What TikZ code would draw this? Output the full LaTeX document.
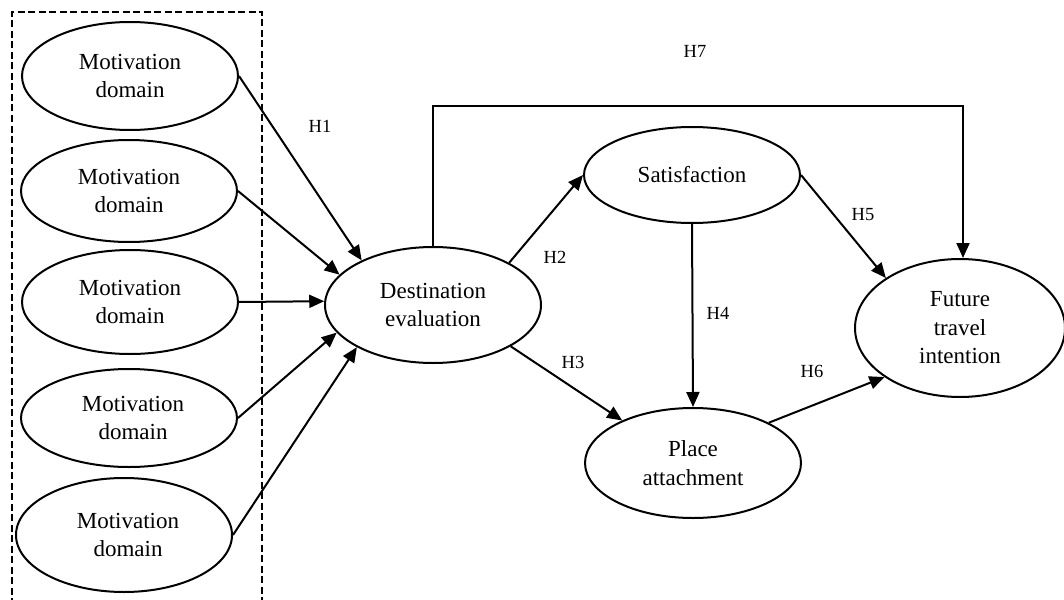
\documentclass[tikz,border=0pt]{standalone}
\usepackage{fontspec}
\setmainfont{Liberation Serif}
\usetikzlibrary{shapes.geometric, arrows.meta}

\begin{document}
\begin{tikzpicture}[x=1pt, y=-1pt,
    var/.style = {ellipse, draw, line width=2pt, inner sep=0pt, align=center,
                  font=\fontsize{23}{28.5}\selectfont},
    hyp/.style = {font=\fontsize{18.5}{20}\selectfont},
    arr/.style = {-{Triangle[length=15pt, width=13pt]}, line width=2pt}]
    \useasboundingbox (0,0) rectangle (1064,599);

    % motivation domains
    \node (M1) at (130,76)  [var, minimum width=216pt, minimum height=108pt] {Motivation\\domain};
    \node (M2) at (129,191) [var, minimum width=216pt, minimum height=102pt] {Motivation\\domain};
    \node (M3) at (130,302) [var, minimum width=216pt, minimum height=104pt] {Motivation\\domain};
    \node (M4) at (129,418) [var, minimum width=216pt, minimum height=98pt]  {\hspace*{8pt}Motivation\\\hspace*{8pt}domain};
    \node (M5) at (124,535) [var, minimum width=216pt, minimum height=114pt] {\hspace*{8pt}Motivation\\\hspace*{8pt}domain};
    \draw [line width=2.4pt, dash pattern=on 7pt off 3.5pt]
        (12,605) -- (12,12) -- (262,12) -- (262,605);

    \node (D) at (433,305) [var, minimum width=216pt, minimum height=116pt] {Destination\\evaluation};
    \node (S) at (692,175) [var, minimum width=216pt, minimum height=96pt]  {Satisfaction};
    \node (P) at (693,463) [var, minimum width=216pt, minimum height=110pt] {Place\\attachment};
    \node (F) at (960,328) [var, minimum width=210pt, minimum height=138pt] {Future\\travel\\intention};
    \coordinate (T) at (700,106);

    \path [arr] (M1.east) edge (D.148.5)
                (M2.east) edge (D.162)
                (M3.east) edge (D.178)
                (M4.east) edge (D.196)
                (M5.east) edge (D.209)
                (D.29)    edge (S.west)
                (D.-28)   edge (P.149)
                (S.south) edge (P.north)
                (S.east)  edge (F.146)
                (P.28)    edge (F.213);
    \draw [arr] (D.north) |- (T) -| ([xshift=3pt]F.north);

    \node (H1) at (320,126) [hyp] {H1};
    \node (H2) at (555,257) [hyp] {H2};
    \node (H3) at (573,362) [hyp] {H3};
    \node (H4) at (718,313) [hyp] {H4};
    \node (H5) at (863,215) [hyp] {H5};
    \node (H6) at (812,371) [hyp] {H6};
    \node (H7) at (695,51)  [hyp] {H7};
\end{tikzpicture}
\end{document}
